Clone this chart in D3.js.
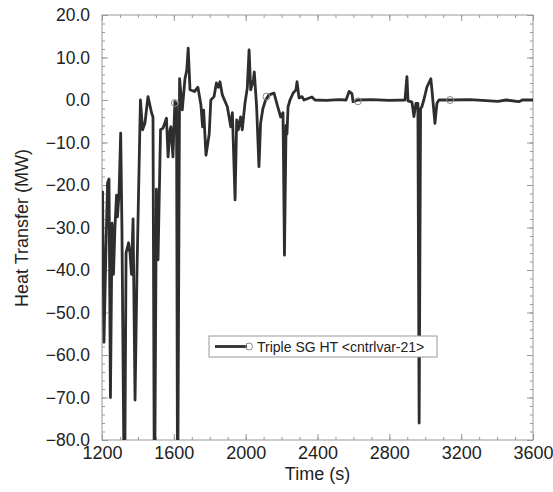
<!DOCTYPE html>
<meta charset="utf-8">
<style>
body { margin: 0; background: #fff; }
text { font-family: "Liberation Sans", Arial, sans-serif; fill: #222; }
.line { fill: none; stroke: #2e2e2e; stroke-width: 2.8px; stroke-linejoin: round; }
.frame { fill: none; stroke: #999; stroke-width: 1px; }
.tick line { stroke: #999; }
.marker { fill: none; stroke: #888; stroke-width: 1px; }
</style>
<body>
<script src="https://d3js.org/d3.v7.min.js"></script>
<script>

// data
var time = [1200, 1203, 1211, 1222, 1231, 1239, 1247, 1256, 1264, 1272, 1281, 1286, 1295, 1304,
  1311, 1325, 1334, 1348, 1356, 1364, 1373, 1384, 1395, 1414, 1426, 1439, 1456, 1476, 1484,
  1492, 1503, 1512, 1526, 1540, 1559, 1568, 1579, 1584, 1595, 1606, 1615, 1621, 1632, 1647,
  1662, 1672, 1680, 1690, 1715, 1734, 1751, 1760, 1766, 1779, 1797, 1806, 1824, 1837, 1848,
  1857, 1870, 1898, 1917, 1926, 1941, 1950, 1959, 1972, 1981, 1996, 2009, 2019, 2028, 2043,
  2048, 2061, 2074, 2083, 2096, 2111, 2130, 2158, 2176, 2195, 2208, 2216, 2225, 2230, 2236,
  2247, 2264, 2280, 2286, 2297, 2314, 2325, 2369, 2386, 2450, 2520, 2559, 2576, 2592, 2598,
  2625, 2700, 2800, 2887, 2898, 2904, 2926, 2937, 2948, 2959, 2966, 2974, 2981, 2992, 3009,
  3031, 3037, 3054, 3065, 3076, 3138, 3250, 3405, 3450, 3522, 3540, 3600];
var heat = [-30, -21.6, -57, -35, -19.5, -18.6, -70, -29, -41, -30, -22.4, -27.5, -22, -7.8,
  -30, -100, -36, -33.6, -36, -41, -28, -70.6, -40, 0, -7, -5.5, 0.8, -3, -4,
  -100, -21, -37.6, -7, -6.6, -4.3, -13.4, -7, -6.3, -13.4, -0.4, -0.8, -100, 5, -2.3,
  5, 7, 12.2, 2.4, 2.0, 3.0, -1.2, -6.3, -2.4, -13, -8, 0, 0.8, 4, 3,
  4.3, 1.2, -1.6, -6.3, -3, -23.5, -4.7, -7, -4, -7, -0.8, 2.8, 11.8, 2.4, 4.7,
  6.6, -1.6, -15.7, -5.5, -2, 0, 1.2, 1.6, -1.2, -4, -3, -36.5, -6, -8, -1.6,
  0, 1.6, 2.4, 4.3, 0.5, 0.8, 0, 0.7, 0, -0.1, 0.1, 0, 2, 1.5, -0.4,
  0, 0.1, -0.1, 0, 5.5, -0.2, -0.5, -3.9, -0.8, -0.8, -76, -2, -1.6, 0, 3,
  5, 2.5, -5.5, -0.8, 0, 0, 0.1, -0.3, 0, -0.4, 0, 0];

// open circle markers along the curve
var markerTime = [1606, 2116, 2625, 3138];
var markerHeat = [-0.7, 0.8, -0.3, 0];

var xTicks = [1200, 1600, 2000, 2400, 2800, 3200, 3600];
var yTicks = [-80, -70, -60, -50, -40, -30, -20, -10, 0, 10, 20];
var seriesName = "Triple SG HT <cntrlvar-21>";

var margin = {top: 15, right: 20, bottom: 52, left: 102},
    width = 533 - margin.left,
    height = 440 - margin.top;

var x = d3.scaleLinear().domain([1200, 3600]).range([0, width]);
var y = d3.scaleLinear().domain([-80, 20]).range([height, 0]);

var svg = d3.select("body").append("svg")
    .attr("width", 553)
    .attr("height", 492)
  .append("g")
    .attr("transform", "translate(" + margin.left + "," + margin.top + ")");

svg.append("clipPath").attr("id", "clip")
  .append("rect").attr("width", width).attr("height", height);

var data = time.map(function(t, i) { return [t, heat[i]]; });

var valueline = d3.line()
    .x(function(d) { return x(d[0]); })
    .y(function(d) { return y(d[1]); });

// minor ticks
var xMinor = d3.range(1200, 3601, 100), yMinor = d3.range(-80, 21, 2);
svg.append("g").attr("transform", "translate(0," + height + ")")
    .call(d3.axisBottom(x).tickValues(xMinor).tickSize(-3).tickFormat(""));
svg.append("g").call(d3.axisTop(x).tickValues(xMinor).tickSize(-3).tickFormat(""));
svg.append("g").call(d3.axisLeft(y).tickValues(yMinor).tickSize(-3).tickFormat(""));
svg.append("g").attr("transform", "translate(" + width + ",0)")
    .call(d3.axisRight(y).tickValues(yMinor).tickSize(-3).tickFormat(""));

// major ticks with labels
var xAxis = svg.append("g").attr("transform", "translate(0," + height + ")")
    .call(d3.axisBottom(x).tickValues(xTicks).tickSize(-6).tickPadding(6).tickFormat(d3.format("d")));
xAxis.selectAll("text").style("font-size", "18px");
svg.append("g").call(d3.axisTop(x).tickValues(xTicks).tickSize(-6).tickFormat(""));
var yAxis = svg.append("g")
    .call(d3.axisLeft(y).tickValues(yTicks).tickSize(-6).tickPadding(12).tickFormat(d3.format(".1f")));
yAxis.selectAll("text").style("font-size", "17.5px");
svg.append("g").attr("transform", "translate(" + width + ",0)")
    .call(d3.axisRight(y).tickValues(yTicks).tickSize(-6).tickFormat(""));

svg.selectAll(".domain").remove();
svg.selectAll(".tick text").attr("fill", "#222");

svg.append("rect").attr("class", "frame")
    .attr("width", width).attr("height", height);

svg.append("path")
    .data([data])
    .attr("class", "line")
    .attr("clip-path", "url(#clip)")
    .attr("d", valueline);

svg.selectAll(".marker")
    .data(markerTime)
  .enter().append("circle")
    .attr("class", "marker")
    .attr("cx", function(d) { return x(d); })
    .attr("cy", function(d, i) { return y(markerHeat[i]); })
    .attr("r", 3.5);

// axis titles
svg.append("text")
    .attr("x", width / 2)
    .attr("y", height + 40)
    .attr("text-anchor", "middle")
    .style("font-size", "18px")
    .text("Time (s)");

svg.append("text")
    .attr("transform", "translate(" + (28 - margin.left) + "," + (228 - margin.top) + ") rotate(-90)")
    .attr("text-anchor", "middle")
    .style("font-size", "18px")
    .text("Heat Transfer (MW)");

// legend
var legend = svg.append("g")
    .attr("transform", "translate(" + (209 - margin.left) + "," + (336 - margin.top) + ")");
legend.append("rect")
    .attr("width", 228).attr("height", 21)
    .attr("fill", "#fff").attr("stroke", "#999");
legend.append("line")
    .attr("x1", 6).attr("x2", 38).attr("y1", 10.5).attr("y2", 10.5)
    .attr("stroke", "#2e2e2e").attr("stroke-width", 2.8);
legend.append("circle").attr("class", "marker")
    .attr("cx", 40).attr("cy", 10.5).attr("r", 3.5);
legend.append("text")
    .attr("x", 48).attr("y", 15.5)
    .style("font-size", "14px")
    .text(seriesName);

</script>
</body>
